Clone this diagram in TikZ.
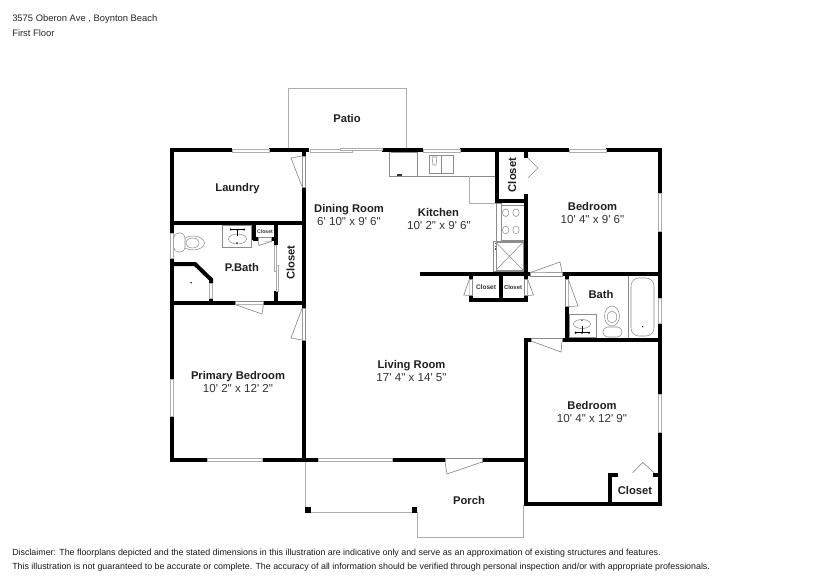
\documentclass[tikz,border=0pt]{standalone}
\usepackage{fontspec}
\setmainfont{Liberation Sans}
\newfontfamily\dimfont{Liberation Sans}
\tikzset{
  wall/.style={line width=3pt,black,line cap=butt,line join=miter},
  thin grey/.style={line width=0.6pt,draw=black!32,fill=none},
  fixture/.style={line width=0.4pt,draw=black!45,fill=white},
  windowpane/.style={line width=0.5pt,draw=black!32,fill=white},
  doorleaf/.style={line width=0.5pt,draw=black!45,fill=white,line join=miter},
  room/.style={font=\fontsize{8.4}{10}\selectfont\bfseries,inner sep=0pt,text=black!88,text height=6pt,text depth=0pt},
  dims/.style={font=\dimfont\fontsize{8.7}{10}\selectfont,inner sep=0pt,text=black!80,text height=6.2pt,text depth=0pt},
  smallcl/.style={font=\fontsize{4.4}{5}\selectfont\bfseries,inner sep=0pt,text=black!80,text height=3.2pt,text depth=0pt},
  info/.style={font=\fontsize{7.05}{8}\selectfont,inner sep=0pt,anchor=west,text=black!85,text height=5pt,text depth=0pt},
  note/.style={font=\fontsize{6.65}{8}\selectfont,inner sep=0pt,anchor=west,text=black!90,text height=4.8pt,text depth=0pt},
  dotmark/.style={fill=black,draw=none}
}
\begin{document}
\begin{tikzpicture}[x=0.75pt,y=-0.75pt]
\useasboundingbox[fill=white] (0,0) rectangle (831,588);
% patio and porch outlines
\draw[thin grey] (288.5,150) -- (288.5,88.5) -- (406,88.5) -- (406,150);
\draw[thin grey] (305,462) -- (305,510);
\draw[thin grey] (308,512.7) -- (414,512.7);
\draw[thin grey] (417.3,512) -- (417.3,537) -- (523.5,537) -- (523.5,505);
\fill[dotmark] (305,507) rectangle (311,513);
\fill[dotmark] (411.7,507) rectangle (417.3,513);
% kitchen fixtures
\draw[fixture,fill=none] (389.5,152) -- (389.5,176) -- (497,176);
\draw[fixture,fill=none] (390.5,152) -- (417,152) -- (417,176);
\fill[black!80] (397,174.3) rectangle (402,176);
\draw[fixture] (429,155) rectangle (453,173);
\draw[fixture] (441,155) -- (441,173);
\draw[fixture] (432,157) -- (433,165) -- (436,165) -- (437,157) -- cycle;
\draw[thin grey] (469.5,176) -- (469.5,203) -- (497,203);
\draw[fixture] (496,203) rectangle (501,241);
\draw[fixture] (501,205) rectangle (524,240);
\draw[fixture] (505.7,212.7) ellipse (3.2 and 3.8);
\draw[fixture] (516,212.7) ellipse (3.2 and 3.8);
\draw[fixture] (505.7,230) ellipse (3.2 and 3.8);
\draw[fixture] (516,230) ellipse (3.2 and 3.8);
\draw[fixture] (493.5,241) rectangle (524,271);
\draw[fixture] (496,242.5) rectangle (523,270);
\draw[fixture] (496,242.5) -- (523,270) (523,242.5) -- (496,270);
\draw[fixture,draw=black!70,dash pattern=on 1pt off 1pt] (494.8,243) -- (494.8,250);
% walls
\draw[wall] (170,150.5) -- (232,150.5);
\draw[wall] (269,150.5) -- (309,150.5);
\draw[wall] (382,150.5) -- (423,150.5);
\draw[wall] (460,150.5) -- (569,150.5);
\draw[wall] (606,150.5) -- (662,150.5);
\draw[wall] (172,150) -- (172,233);
\draw[wall] (172,258.5) -- (172,379);
\draw[wall] (172,416) -- (172,462);
\draw[wall] (170,460) -- (207,460);
\draw[wall] (262,460) -- (318,460);
\draw[wall] (392,460) -- (445,460);
\draw[wall] (482,460) -- (526,460);
\draw[wall] (304,150) -- (304,156);
\draw[wall] (304,187) -- (304,308);
\draw[wall] (304,340) -- (304,460);
\draw[wall] (172,223) -- (304,223);
\draw[wall] (172,303) -- (235,303);
\draw[wall] (263.5,303) -- (304,303);
% P.Bath walls
\draw[wall] (254,223) -- (254,240) ;
\draw[wall] (252.5,238.5) -- (258,238.5);
\draw[wall] (271,238.5) -- (278,238.5);
\draw[wall] (276,223) -- (276,245);
\draw[wall] (276,291) -- (276,303);
\draw[wall] (172,264) -- (195,264) -- (211,279.5) -- (211,283);
\draw[wall] (211,298) -- (211,303);
% right part
\draw[wall] (660,150) -- (660,193);
\draw[wall] (660,231) -- (660,298);
\draw[wall] (660,323) -- (660,394);
\draw[wall] (660,432) -- (660,506);
\draw[wall] (524,504) -- (662,504);
\draw[wall] (526,338) -- (526,506);
\draw[wall] (524,339.5) -- (531,339.5);
\draw[wall] (562,339.5) -- (662,339.5);
\draw[wall] (420,274) -- (530,274);
\draw[wall] (562,274) -- (662,274);
\draw[wall] (567,272.5) -- (567,279);
\draw[wall] (567,306) -- (567,341);
\draw[wall] (497,150) -- (497,203);
\draw[wall] (495.5,201) -- (528,201);
\draw[wall] (526,150) -- (526,158);
\draw[wall] (526,193.5) -- (526,279);
\draw[wall] (471,274) -- (471,279);
\draw[wall] (471,295) -- (471,302);
\draw[wall] (501,274) -- (501,302);
\draw[wall] (526,295) -- (526,302);
\draw[wall] (469.5,300) -- (527.5,300);
\draw[wall] (610,473) -- (610,505);
\draw[wall] (608.5,475) -- (618,475);
\draw[wall] (653,475) -- (660,475);
% windows
\draw[windowpane] (232,149) rectangle (269,152);
\draw[windowpane] (423,149) rectangle (460,152);
\draw[windowpane] (569,149) rectangle (606,152);
\draw[windowpane] (658.5,193) rectangle (661.5,231);
\draw[windowpane] (658.5,298) rectangle (661.5,323);
\draw[windowpane] (658.5,394) rectangle (661.5,432);
\draw[windowpane] (170.5,233) rectangle (173.5,258.5);
\draw[windowpane] (170.5,379) rectangle (173.5,416);
\draw[windowpane] (207,458.5) rectangle (262,461.5);
\draw[windowpane] (318,458.5) rectangle (392,461.5);
\draw[windowpane] (209.5,283) rectangle (212.5,298);
% sliding doors
\draw[windowpane] (310,149.5) rectangle (352,152);
\draw[windowpane] (340,148) rectangle (382,150.7);
\draw[windowpane] (274.5,245) rectangle (276.7,271);
\draw[windowpane] (276.3,265) rectangle (278,291);
% doors
\draw[doorleaf] (302,156) rectangle (305.5,187);
\draw[doorleaf] (302,156) -- (291,158) -- (302,186.5);
\draw[doorleaf] (302,308) rectangle (305.5,340);
\draw[doorleaf] (302,308.5) -- (291,338) -- (302,340);
\draw[doorleaf] (235,301.5) rectangle (263.5,304.5);
\draw[doorleaf] (235,304.5) -- (262,314) -- (263.5,304.5);
\draw[doorleaf] (258,237) rectangle (271,241);
\draw[doorleaf] (258,241) -- (259,245.5) -- (271,241.5);
\draw[doorleaf] (445,458.5) rectangle (482,462);
\draw[doorleaf] (445,462) -- (447,474) -- (482,462);
\draw[doorleaf] (530.5,272) rectangle (562,276);
\draw[doorleaf] (530.5,272.5) -- (560,262) -- (562,272);
\draw[doorleaf] (531,338) rectangle (562,341);
\draw[doorleaf] (531,341) -- (561,352) -- (562,341);
\draw[doorleaf] (565,279) rectangle (568.5,306);
\draw[doorleaf] (568.5,280) -- (578,306) -- (568.5,306.5);
\draw[doorleaf] (469.5,279) rectangle (472.5,295);
\draw[doorleaf] (469.5,279) -- (463.8,295) -- (469.5,295.5);
\draw[doorleaf] (524.5,279) rectangle (527.5,295);
\draw[doorleaf] (527.5,279) -- (533.5,295) -- (527.5,295.5);
\draw[doorleaf,fill=none] (528,158) -- (538,168) -- (528,178);
\draw[doorleaf,fill=none] (632.7,472.7) -- (642.7,462.3) -- (654,472.7);
% half-bath fixtures
\draw[fixture] (222.7,225) rectangle (251.5,247.3);
\draw[fixture] (237.5,239) ellipse (9 and 5);
\fill[dotmark] (230.7,229.5) circle (1.2) (244,229.5) circle (1.2) (237.3,230) circle (1) (237,243) circle (0.8);
\draw[line width=0.5pt] (231,229.5) -- (244,229.5) (237.3,230) -- (237.3,236);
\draw[fixture] (193,243) ellipse (11.5 and 7);
\draw[fixture] (192.5,243) ellipse (6.5 and 5);
\draw[fixture,rounded corners=3.5pt] (173.7,233) rectangle (185,252);
\fill[dotmark] (191,282.7) circle (0.8);
% bath fixtures
\draw[fixture] (628,276) -- (628,338);
\draw[fixture,rounded corners=6pt] (631,278) rectangle (654,336);
\fill[dotmark] (642.7,326.7) circle (0.7);
\draw[fixture] (569,314) rectangle (596,337.5);
\draw[fixture] (582,324) ellipse (8.5 and 4.5);
\fill[dotmark] (575.7,332.7) circle (1.2) (582,332.7) circle (1.2) (589,332.7) circle (1.2) (582,320.5) circle (0.6);
\draw[line width=0.5pt] (576,332.7) -- (589,332.7) (582,326) -- (582,333);
\draw[fixture] (612,316) ellipse (7.5 and 10);
\draw[fixture] (612,317) ellipse (4.8 and 6);
\draw[fixture,rounded corners=3.5pt] (603,327) rectangle (622,337);
% texts
\node[info] (addr) at (12,18) {3575 Oberon Ave , Boynton Beach};
\node[info] (floor) at (12,33) {First Floor};
\node[room] (patio) at (347,119) {Patio};
\node[room] (laundry) at (237.5,187) {Laundry};
\node[room] (dining) at (349,208) {Dining Room};
\node[dims] (diningd) at (349,221) {6' 10" x 9' 6"};
\node[room] (kitchen) at (438.5,212) {Kitchen};
\node[dims] (kitchend) at (439,225.5) {10' 2" x 9' 6"};
\node[room] (bed1) at (592.5,206) {Bedroom};
\node[dims] (bed1d) at (592.5,219) {10' 4" x 9' 6"};
\node[room] (pbath) at (242,267) {P.Bath};
\node[room] (bath) at (601,294.5) {Bath};
\node[room] (primary) at (238,375.5) {Primary Bedroom};
\node[dims] (primaryd) at (238,388) {10' 2" x 12' 2"};
\node[room] (living) at (411.5,364) {Living Room};
\node[dims] (livingd) at (411.5,377) {17' 4" x 14' 5"};
\node[room] (bed2) at (592,405.5) {Bedroom};
\node[dims] (bed2d) at (592,418) {10' 4" x 12' 9"};
\node[room] (porch) at (469,500) {Porch};
\node[room] (cl1) at (635,490) {Closet};
\node[room,rotate=90] (cl2) at (512,175) {Closet};
\node[room,rotate=90] (cl3) at (290.7,262.7) {Closet};
\node[smallcl,font=\fontsize{4.9}{6}\selectfont\bfseries] (cl4) at (486,287.5) {Closet};
\node[smallcl] (cl5) at (513,287.5) {Closet};
\node[smallcl,font=\fontsize{3.85}{5}\selectfont\bfseries] (cl6) at (265,231) {Closet};
\node[note] (d1) at (12,552) {Disclaimer: The floorplans depicted and the stated dimensions in this illustration are indicative only and serve as an approximation of existing structures and features.};
\node[note] (d2) at (12,566) {This illustration is not guaranteed to be accurate or complete. The accuracy of all information should be verified through personal inspection and/or with appropriate professionals.};
\end{tikzpicture}
\end{document}
